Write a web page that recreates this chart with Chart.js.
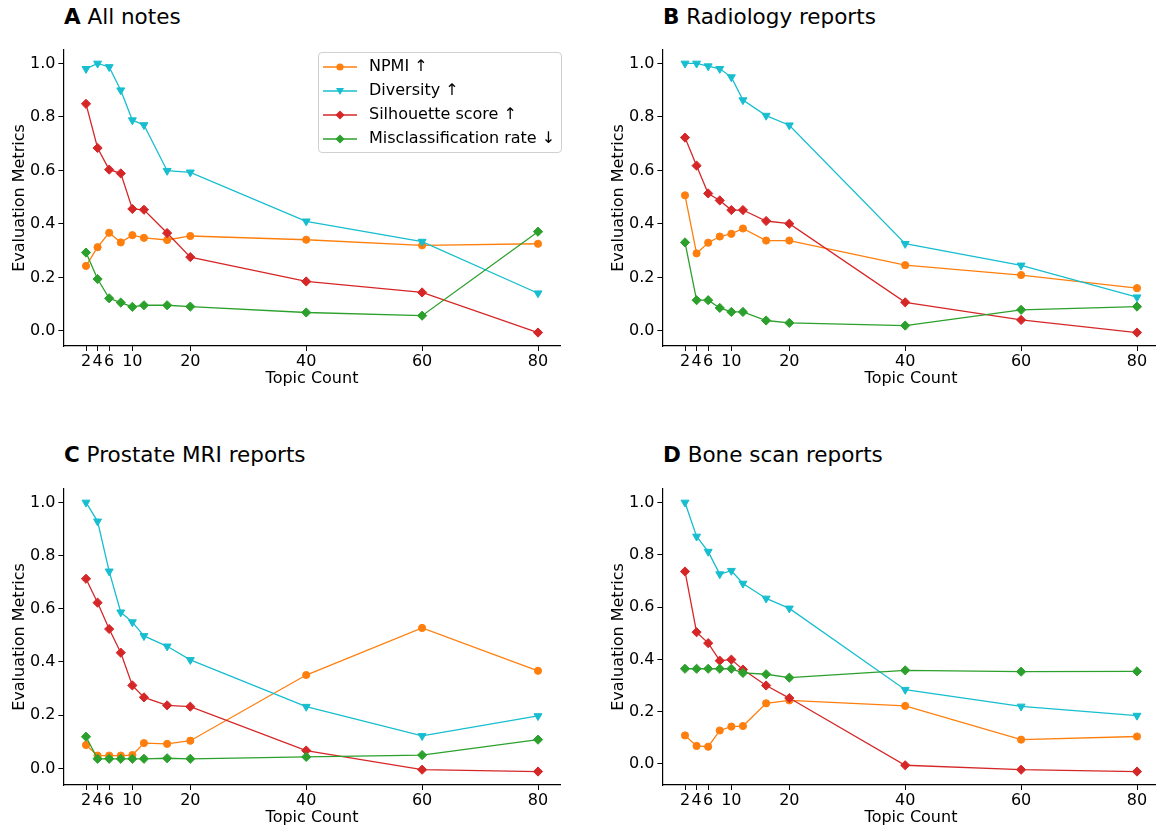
<!DOCTYPE html>
<html>
<head>
<meta charset="utf-8">
<script src="https://cdn.jsdelivr.net/npm/chart.js@4.4.1/dist/chart.umd.min.js"></script>
<style>
html,body{margin:0;padding:0;overflow:hidden;background:#fff;}
body{width:1156px;height:827px;position:relative;font-family:"DejaVu Sans",sans-serif;color:#000;}
.panel{position:absolute;width:580px;height:358px;}
.ptitle{position:absolute;font-size:21.5px;line-height:24px;white-space:nowrap;}
.legend{position:absolute;left:318px;top:52px;width:242px;padding:1px 0 2px 0;border:1px solid #d0d0d0;border-radius:4px;background:rgba(255,255,255,0.8);font-size:16px;}
.legend div{height:24px;line-height:24px;white-space:nowrap;}
.legend svg{vertical-align:middle;margin:0 12px 0 4px;}
</style>
</head>
<body>

<div class="ptitle" style="left:64px;top:5px;"><b>A</b> All notes</div>
<div class="ptitle" style="left:663px;top:5px;"><b>B</b> Radiology reports</div>
<div class="ptitle" style="left:64px;top:443px;"><b>C</b> Prostate MRI reports</div>
<div class="ptitle" style="left:663px;top:443px;"><b>D</b> Bone scan reports</div>

<div class="panel" style="left:0px;top:30px;"><canvas id="chartA" width="580" height="358"></canvas></div>
<div class="panel" style="left:599px;top:30px;"><canvas id="chartB" width="580" height="358"></canvas></div>
<div class="panel" style="left:0px;top:469px;"><canvas id="chartC" width="580" height="358"></canvas></div>
<div class="panel" style="left:599px;top:469px;"><canvas id="chartD" width="580" height="358"></canvas></div>

<div class="legend" id="legend"></div>

<script>
const topicCounts = [2, 4, 6, 8, 10, 12, 16, 20, 40, 60, 80];
const xTicks = [2, 4, 6, 10, 20, 40, 60, 80];
const yTicks = [0, 0.2, 0.4, 0.6, 0.8, 1.0];

const seriesNames = ["NPMI ↑", "Diversity ↑", "Silhouette score ↑", "Misclassification rate ↓"];
const seriesColors = ["#ff7f0e", "#17becf", "#d62728", "#2ca02c"];

// A All notes
const allNpmi = [0.243, 0.313, 0.367, 0.331, 0.358, 0.348, 0.340, 0.355, 0.341, 0.320, 0.326];
const allDiversity = [0.980, 1.0, 0.987, 0.900, 0.788, 0.770, 0.599, 0.593, 0.410, 0.334, 0.141];
const allSilhouette = [0.849, 0.684, 0.603, 0.589, 0.456, 0.453, 0.366, 0.276, 0.185, 0.144, -0.006];
const allMisclass = [0.293, 0.194, 0.122, 0.106, 0.090, 0.096, 0.096, 0.091, 0.069, 0.057, 0.371];

// B Radiology reports
const radNpmi = [0.507, 0.290, 0.330, 0.353, 0.363, 0.383, 0.338, 0.338, 0.246, 0.209, 0.160];
const radDiversity = [1.0, 1.0, 0.990, 0.980, 0.949, 0.863, 0.805, 0.769, 0.326, 0.245, 0.126];
const radSilhouette = [0.723, 0.618, 0.514, 0.488, 0.452, 0.452, 0.411, 0.401, 0.107, 0.041, -0.006];
const radMisclass = [0.331, 0.115, 0.115, 0.086, 0.071, 0.071, 0.039, 0.030, 0.020, 0.079, 0.091];

// C Prostate MRI reports
const mriNpmi = [0.088, 0.048, 0.048, 0.048, 0.050, 0.095, 0.092, 0.104, 0.351, 0.528, 0.367];
const mriDiversity = [1.0, 0.929, 0.741, 0.587, 0.550, 0.498, 0.459, 0.408, 0.232, 0.122, 0.197];
const mriSilhouette = [0.713, 0.623, 0.524, 0.435, 0.312, 0.267, 0.237, 0.232, 0.067, -0.005, -0.012];
const mriMisclass = [0.119, 0.036, 0.036, 0.036, 0.036, 0.036, 0.038, 0.036, 0.043, 0.050, 0.108];

// D Bone scan reports
const boneNpmi = [0.109, 0.069, 0.066, 0.128, 0.143, 0.145, 0.232, 0.243, 0.222, 0.093, 0.105];
const boneDiversity = [1.0, 0.870, 0.812, 0.726, 0.739, 0.690, 0.633, 0.595, 0.284, 0.220, 0.185];
const boneSilhouette = [0.736, 0.504, 0.462, 0.395, 0.399, 0.361, 0.300, 0.252, -0.005, -0.022, -0.029];
const boneMisclass = [0.364, 0.364, 0.364, 0.364, 0.364, 0.348, 0.343, 0.330, 0.358, 0.353, 0.354];

const pointStyles = ["circle", "triangle", "rectRot", "rectRot"];
const pointRadii = [3.6, 4.6, 4.6, 4.6];
const pointRotations = [0, 180, 0, 0];

const FONT = "'DejaVu Sans', sans-serif";

function margins(values){
    const lo = Math.min(...values);
    const hi = Math.max(...values);
    const pad = (hi - lo) * 0.05;
    return [lo - pad, hi + pad];
}

function buildChart(id, series){

    const datasets = series.map((vals, i) => ({
        label: seriesNames[i],
        data: topicCounts.map((x, j) => ({x: x, y: vals[j]})),
        borderColor: seriesColors[i],
        backgroundColor: seriesColors[i],
        borderWidth: 1.3,
        pointStyle: pointStyles[i],
        pointRadius: pointRadii[i],
        pointRotation: pointRotations[i],
        pointBorderWidth: 1,
        pointBorderColor: seriesColors[i],
        pointBackgroundColor: seriesColors[i],
        tension: 0,
        order: 3 - i
    }));

    const yRange = margins([].concat(...series));
    const xRange = margins(topicCounts);

    return new Chart(
        document.getElementById(id),
        {
            type: "line",
            data: {datasets: datasets},
            options: {
                responsive: false,
                animation: false,
                devicePixelRatio: 1,
                layout: {padding: {top: 20, right: 19.4, bottom: 0, left: 0}},
                plugins: {
                    legend: {display: false},
                    tooltip: {enabled: false}
                },
                scales: {
                    x: {
                        type: "linear",
                        min: xRange[0],
                        max: xRange[1],
                        afterBuildTicks: axis => {
                            axis.ticks = xTicks.map(v => ({value: v}));
                        },
                        afterFit: axis => { axis.height = 42; },
                        ticks: {
                            autoSkip: false,
                            maxRotation: 0,
                            padding: 1,
                            color: "#000",
                            font: {family: FONT, size: 16},
                            callback: v => String(v)
                        },
                        grid: {
                            drawOnChartArea: false,
                            drawTicks: true,
                            tickLength: 5,
                            tickColor: "#000",
                            tickWidth: 1
                        },
                        border: {display: true, color: "#000", width: 1.2},
                        title: {
                            display: true,
                            text: "Topic Count",
                            color: "#000",
                            font: {family: FONT, size: 16},
                            padding: {top: 0, bottom: 0}
                        }
                    },
                    y: {
                        type: "linear",
                        min: yRange[0],
                        max: yRange[1],
                        afterBuildTicks: axis => {
                            axis.ticks = yTicks.map(v => ({value: v}));
                        },
                        afterFit: axis => { axis.width = 63.4; },
                        ticks: {
                            padding: 3,
                            color: "#000",
                            font: {family: FONT, size: 16},
                            callback: v => v.toFixed(1)
                        },
                        grid: {
                            drawOnChartArea: false,
                            drawTicks: true,
                            tickLength: 5,
                            tickColor: "#000",
                            tickWidth: 1
                        },
                        border: {display: true, color: "#000", width: 1.2},
                        title: {
                            display: true,
                            text: "Evaluation Metrics",
                            color: "#000",
                            font: {family: FONT, size: 16},
                            padding: {top: 10, bottom: 0}
                        }
                    }
                }
            }
        }
    );
}

buildChart("chartA", [allNpmi, allDiversity, allSilhouette, allMisclass]);
buildChart("chartB", [radNpmi, radDiversity, radSilhouette, radMisclass]);
buildChart("chartC", [mriNpmi, mriDiversity, mriSilhouette, mriMisclass]);
buildChart("chartD", [boneNpmi, boneDiversity, boneSilhouette, boneMisclass]);

// legend for panel A
function markerSvg(i){
    const c = seriesColors[i];
    let m = "";
    if(pointStyles[i] === "circle"){
        m = `<circle cx="17" cy="7" r="3.6" fill="${c}"/>`;
    }
    else if(pointStyles[i] === "triangle"){
        m = `<polygon points="13,4 21,4 17,11" fill="${c}"/>`;
    }
    else{
        m = `<polygon points="17,2.4 21.6,7 17,11.6 12.4,7" fill="${c}"/>`;
    }
    return `<svg width="34" height="14"><line x1="0" y1="7" x2="34" y2="7" stroke="${c}" stroke-width="1.3"/>${m}</svg>`;
}

document.getElementById("legend").innerHTML =
    seriesNames.map((name, i) => `<div>${markerSvg(i)}${name}</div>`).join("");
</script>
</body>
</html>
